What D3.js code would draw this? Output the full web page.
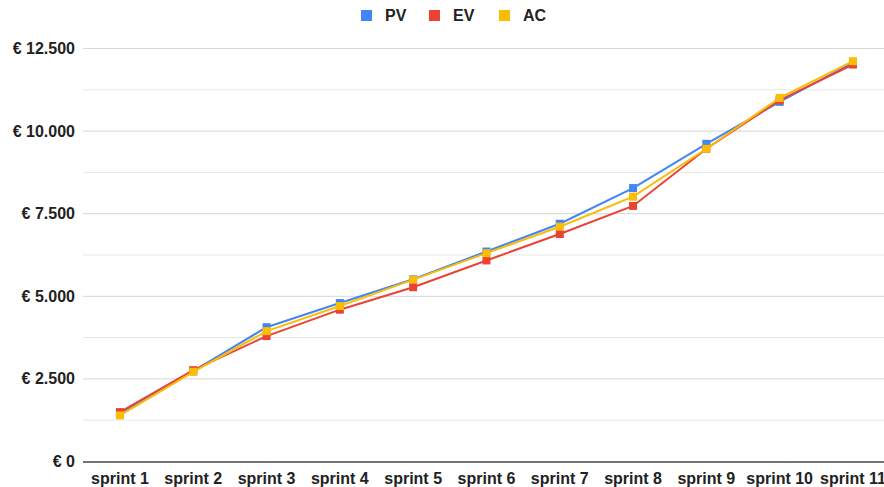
<!DOCTYPE html>
<html><head><meta charset="utf-8">
<script src="https://cdn.jsdelivr.net/npm/d3@7"></script>
<style>body{margin:0;background:#fff;} svg{display:block;font-family:"Liberation Sans",Arial,sans-serif;}</style>
</head><body><svg id="c" width="884" height="487"></svg>
<script>
const categories = ["sprint 1","sprint 2","sprint 3","sprint 4","sprint 5","sprint 6","sprint 7","sprint 8","sprint 9","sprint 10","sprint 11"];
const pv = [1450, 2720, 4050, 4780, 5500, 6340, 7180, 8260, 9600, 10870, 12060];
const ev = [1480, 2750, 3780, 4580, 5260, 6070, 6870, 7720, 9450, 10920, 12000];
const ac = [1380, 2700, 3930, 4690, 5490, 6290, 7090, 8000, 9450, 10990, 12100];
const seriesNames = ["PV","EV","AC"];
const colors = ["#4285F4","#EA4335","#FBBC04"];
const yTicks = [0,2500,5000,7500,10000,12500];
const yMinor = [1250,3750,6250,8750,11250];

const svg = d3.select("#c");
const x = d3.scaleBand().domain(categories).range([83.3, 889.6]);
const y = d3.scaleLinear().domain([0,12500]).range([461,48]);
const fmt = v => "€ " + d3.format(",")(v).replace(/,/g,".");

const g = svg.append("g");
g.selectAll("line.minor").data(yMinor).enter().append("line")
  .attr("x1",83).attr("x2",884).attr("y1",d=>y(d)+0.5).attr("y2",d=>y(d)+0.5)
  .attr("stroke","#e6e6e6").attr("stroke-width",1);
g.selectAll("line.major").data(yTicks.filter(d=>d>0)).enter().append("line")
  .attr("x1",83).attr("x2",884).attr("y1",d=>y(d)+0.5).attr("y2",d=>y(d)+0.5)
  .attr("stroke","#d6d6d6").attr("stroke-width",1);
g.append("line").attr("x1",83).attr("x2",884).attr("y1",y(0)+1).attr("y2",y(0)+1)
  .attr("stroke","#444").attr("stroke-width",1.5);

g.selectAll("text.yl").data(yTicks).enter().append("text")
  .attr("x",75).attr("y",d=>y(d)+6).attr("text-anchor","end")
  .attr("font-size",16).attr("font-weight","bold").attr("fill","#222").text(fmt);
g.selectAll("text.xl").data(categories).enter().append("text")
  .attr("x",d=>x(d)+x.bandwidth()/2).attr("y",484).attr("text-anchor","middle")
  .attr("font-size",16).attr("font-weight","bold").attr("fill","#222").text(d=>d);

const data = [pv,ev,ac];
const line = d3.line().x((d,i)=>x(categories[i])+x.bandwidth()/2).y(d=>y(d));
data.forEach((s,k)=>{
  const sg = svg.append("g");
  sg.append("path").datum(s).attr("d",line).attr("fill","none")
    .attr("stroke",colors[k]).attr("stroke-width",2);
  sg.selectAll("rect").data(s).enter().append("rect")
    .attr("x",(d,i)=>x(categories[i])+x.bandwidth()/2-4)
    .attr("y",d=>y(d)-4).attr("width",8).attr("height",8).attr("fill",colors[k]);
});

const legX = [361,429,499];
const leg = svg.append("g");
seriesNames.forEach((n,k)=>{
  leg.append("rect").attr("x",legX[k]).attr("y",10).attr("width",11).attr("height",11).attr("fill",colors[k]);
  leg.append("text").attr("x",legX[k]+24).attr("y",21).attr("font-size",16).attr("font-weight","bold")
    .attr("fill","#222").text(n);
});
</script></body></html>
